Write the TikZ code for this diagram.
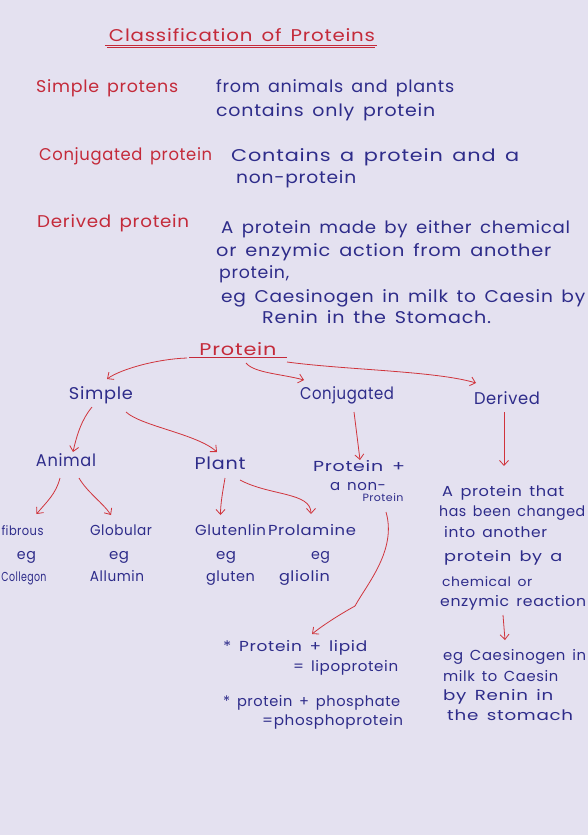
\documentclass[tikz,border=0pt]{standalone}
\usepackage{fontspec}
\usepackage{graphicx}
\setmainfont{Poppins}[LetterSpace=4,WordSpace=1.5]
\usetikzlibrary{arrows.meta}
\definecolor{paper}{HTML}{E4E1F0}
\definecolor{ink}{HTML}{2E2C8A}
\definecolor{redink}{HTML}{C42A3A}
\definecolor{arrowred}{HTML}{D0343C}
\newcommand{\fitw}[2]{\resizebox{#1pt}{\height}{#2}}
\begin{document}
\begin{tikzpicture}[x=1pt,y=-1pt,
  txt/.style={inner sep=0pt, text height=12pt, text depth=3pt, font=\fontsize{17}{20}\selectfont},
  bt/.style={txt, text=ink},
  rt/.style={txt, text=redink},
  sm/.style={font=\fontsize{14.5}{17}\selectfont, text height=10pt},
  smaller/.style={font=\fontsize{13}{15}\selectfont, text height=10pt},
  tiny/.style={font=\fontsize{10.5}{12}\selectfont, text height=8pt, text depth=2pt},
  arr/.style={draw=arrowred, line width=0.8pt, -{Straight Barb[length=5pt,width=9pt]}},
  uline/.style={draw=redink, line width=0.9pt}
]
\fill[paper] (0,0) rectangle (588,835);
\useasboundingbox (0,0) rectangle (588,835);

% ---- header ----
\node[rt] (title) at (242,37) {\fitw{266}{Classification of Proteins}};
\draw[uline] ([shift={(-137,8)}]title.center) -- ([shift={(135,8)}]title.center);
\draw[uline, line width=0.6pt] ([shift={(-135,10.5)}]title.center) -- ([shift={(133,10.5)}]title.center);

\node[rt, anchor=west] (sp) at (36,88) {\fitw{142}{Simple protens}};
\node[bt, anchor=west] (fa) at (216,88) {\fitw{238}{from animals and plants}};
\node[bt, anchor=west] (co) at (216,112) {\fitw{219}{contains only protein}};

\node[rt, anchor=west] (cp) at (39,156) {\fitw{173}{Conjugated protein}};
\node[bt, anchor=west] (cpa) at (231,157) {\fitw{288}{Contains a protein and a}};
\node[bt, anchor=west] (cpb) at (236,179) {\fitw{120}{non-protein}};

\node[rt, anchor=west] (dp) at (37,223) {\fitw{152}{Derived protein}};
\node[bt, anchor=west] (d1) at (221,229) {\fitw{349}{A protein made by either chemical}};
\node[bt, anchor=west] (d2) at (216,252) {\fitw{335}{or enzymic action from another}};
\node[bt, anchor=west] (d3) at (219,274) {\fitw{70}{protein,}};
\node[bt, anchor=west] (d4) at (221,298) {\fitw{364}{eg Caesinogen in milk to Caesin by}};
\node[bt, anchor=west] (d5) at (262,319) {\fitw{229}{Renin in the Stomach.}};

% ---- tree ----
\node[rt] (protein) at (238,351) {\fitw{77}{Protein}};
\draw[uline] ([shift={(-49,6)}]protein.center) -- ([shift={(49,6)}]protein.center);

\node[bt] (simple) at (101,395) {\fitw{64}{Simple}};
\node[bt] (conj) at (347,395) {\fitw{94}{Conjugated}};
\node[bt] (derived) at (507,400) {\fitw{66}{Derived}};

\node[bt] (animal) at (66,462) {\fitw{60}{Animal}};
\node[bt] (plant) at (220,465) {\fitw{51}{Plant}};

\node[bt, sm] (pnp1) at (359,468) {\fitw{92}{Protein +}};
\node[bt, sm] (pnp2) at (358,487) {\fitw{56}{a non-}};
\node[bt, tiny] (pnp3) at (383,498) {\fitw{41}{Protein}};

\node[bt, smaller] (fibrous) at (22.5,532) {\fitw{42}{fibrous}};
\node[bt, sm] (eg1) at (26.5,556) {\fitw{19}{eg}};
\node[bt, smaller] (collegon) at (24,578) {\fitw{45}{Collegon}};
\node[bt, sm] (globular) at (121,532) {\fitw{62}{Globular}};
\node[bt, sm] (eg2) at (119,556) {\fitw{20}{eg}};
\node[bt, sm] (allumin) at (117,578) {\fitw{54}{Allumin}};
\node[bt, sm] (glutenlin) at (230.5,532) {\fitw{71}{Glutenlin}};
\node[bt, sm] (eg3) at (226,556) {\fitw{20}{eg}};
\node[bt, sm] (gluten) at (230.5,578) {\fitw{49}{gluten}};
\node[bt, sm] (prolamine) at (312,532) {\fitw{88}{Prolamine}};
\node[bt, sm] (eg4) at (320.5,556) {\fitw{19}{eg}};
\node[bt, sm] (gliolin) at (304.5,578) {\fitw{51}{gliolin}};

\node[bt, sm, anchor=west] (r1) at (442,493) {\fitw{122}{A protein that}};
\node[bt, sm, anchor=west] (r2) at (439,513) {\fitw{146}{has been changed}};
\node[bt, sm, anchor=west] (r3) at (444,534) {\fitw{103}{into another}};
\node[bt, sm, anchor=west] (r4) at (444,558) {\fitw{118}{protein by a}};
\node[bt, smaller, anchor=west] (r5) at (442,583) {\fitw{90}{chemical or}};
\node[bt, sm, anchor=west] (r6) at (440,603) {\fitw{146}{enzymic reaction}};

\node[bt, sm, anchor=west] (e1) at (443,657) {\fitw{143}{eg Caesinogen in}};
\node[bt, sm, anchor=west] (e2) at (443,678) {\fitw{115}{milk to Caesin}};
\node[bt, sm, anchor=west] (e3) at (443,697) {\fitw{110}{by Renin in}};
\node[bt, sm, anchor=west] (e4) at (447,717) {\fitw{126}{the stomach}};

\node[bt, sm, anchor=west] (l1) at (223,648) {\fitw{144}{* Protein + lipid}};
\node[bt, sm, anchor=west] (l2) at (293,668) {\fitw{105}{= lipoprotein}};
\node[bt, sm, anchor=west] (l3) at (223,703) {\fitw{177}{* protein + phosphate}};
\node[bt, sm, anchor=west] (l4) at (262,722) {\fitw{141}{=phosphoprotein}};

% ---- connectors ----
\draw[arr] ([shift={(-51,7)}]protein.center) .. controls +(-30,1) and +(14,-10) .. ([shift={(6,-16)}]simple.center);
\draw[arr] ([shift={(8,12)}]protein.center) .. controls +(8,10) and +(-22,-6) .. ([shift={(-43,-15)}]conj.center);
\draw[arr] ([shift={(49,11)}]protein.center) .. controls +(60,8) and +(-40,-12) .. ([shift={(-31,-17)}]derived.center);

\draw[arr] ([shift={(-9,12)}]simple.center) .. controls +(-10,12) and +(4,-18) .. ([shift={(7,-10)}]animal.center);
\draw[arr] ([shift={(25,17)}]simple.center) .. controls +(15,14) and +(-20,-18) .. ([shift={(-3,-13)}]plant.center);
\draw[arr] ([shift={(7,17)}]conj.center) -- ([shift={(1,-8)}]pnp1.center);
\draw[arr] ([shift={(-3,12)}]derived.center) -- ([shift={(62,-27)}]r1.west);

\draw[arr] ([shift={(-6,16)}]animal.center) .. controls +(-4,16) and +(10,-12) .. ([shift={(14,-18)}]fibrous.center);
\draw[arr] ([shift={(13,16)}]animal.center) .. controls +(8,14) and +(-8,-12) .. ([shift={(-10,-17)}]globular.center);
\draw[arr] ([shift={(5,13)}]plant.center) .. controls +(-2,12) and +(0,-12) .. ([shift={(-10,-17)}]glutenlin.center);
\draw[arr] ([shift={(20,15)}]plant.center) .. controls +(30,16) and +(0,-22) .. ([shift={(-1,-18)}]prolamine.center);

\draw[arr] ([shift={(3,14)}]pnp3.center) .. controls +(11,38) and +(12,-22) .. (355,606) .. controls +(-18,10) and +(10,-8) .. ([shift={(89,-14)}]l1.west);
\draw[arr] ([shift={(63,12)}]r6.west) -- ([shift={(62,-17)}]e1.west);
\end{tikzpicture}
\end{document}
